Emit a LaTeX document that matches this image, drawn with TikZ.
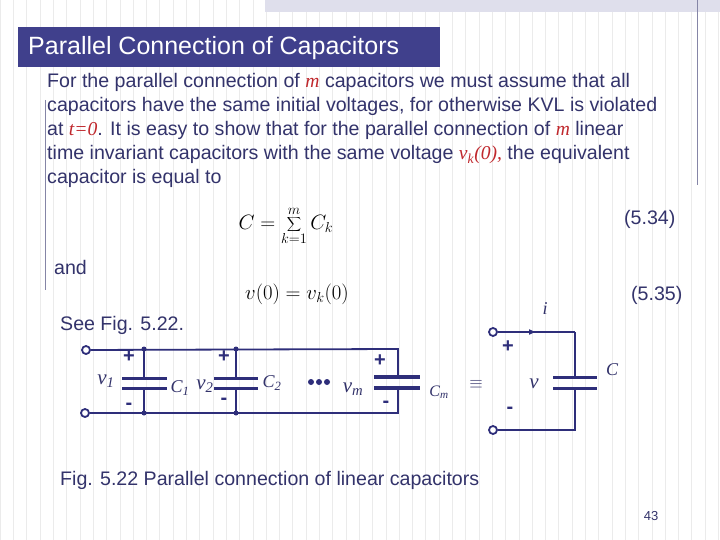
\documentclass[tikz,border=0pt]{standalone}
\usepackage{fontspec}
\setmainfont{Liberation Sans}
\newfontfamily\serifm{Liberation Serif}
\usetikzlibrary{decorations.markings}
\definecolor{navy}{HTML}{33336B}
\definecolor{titleblue}{HTML}{40408C}
\definecolor{wire}{HTML}{2E2E7A}
\definecolor{redt}{HTML}{C0282D}
\begin{document}
\begin{tikzpicture}[x=1pt,y=-1pt,
  body/.style={anchor=base west,inner sep=0,text=navy,font=\fontsize{19.6}{22}\selectfont},
  w/.style={draw=wire,line width=1.8pt},
  plate/.style={draw=wire,line width=3pt},
  term/.style={circle,draw=wire,line width=1.8pt,fill=white,minimum size=8pt,inner sep=0},
  dotn/.style={circle,fill=wire,minimum size=5pt,inner sep=0},
  lab/.style={inner sep=0,text=navy,font=\serifm\itshape\fontsize{21}{22}\selectfont},
  pm/.style={inner sep=0,text=wire,font=\bfseries\fontsize{20}{22}\selectfont}]
\useasboundingbox (0,0) rectangle (720,540);
\fill[white] (0,0) rectangle (720,540);
\draw[black!8,line width=0.4pt,step=13.3] (0,0) grid (720,540);
\fill[blue!25!gray!20] (265,0) rectangle (720,12);
\draw[navy!60,line width=0.8pt] (697,0) -- (697,185);
\draw[navy!60,line width=0.6pt] (45,100) -- (45,290);
% title
\fill[titleblue] (18,27) rectangle (440,67);
\node[text=white,anchor=west,inner sep=0,font=\fontsize{25}{28}\selectfont] (title) at (28,48) {Parallel Connection of Capacitors};
% body
\node[body] (l1) at (47,88) {For the parallel connection of {\color{redt}\serifm\itshape m} capacitors we must assume that all};
\node[body] (l2) at (47,112) {capacitors have the same initial voltages, for otherwise KVL is violated};
\node[body] (l3) at (47,136) {at {\color{redt}\serifm\itshape t=0}. It is easy to show that for the parallel connection of {\color{redt}\serifm\itshape m} linear};
\node[body] (l4) at (47,160) {time invariant capacitors with the same voltage {\color{redt}\serifm\itshape v\textsubscript{k}(0),} the equivalent};
\node[body] (l5) at (47,184) {capacitor is equal to};
\node[inner sep=0,text=black,font=\fontsize{20}{22}\selectfont] (eq1) at (286,226) {$\displaystyle C=\sum_{k=1}^{m} C_k$};
\node[body] (n1) at (624,225) {(5.34)};
\node[body] (and) at (54,274) {and};
\node[inner sep=0,text=black,font=\fontsize{20}{22}\selectfont] (eq2) at (297,294) {$v(0)=v_k(0)$};
\node[body] (n2) at (631,300) {(5.35)};
\node[body] (see) at (60,330) {See Fig. 5.22.};
\node[body] (cap) at (60,485) {Fig. 5.22 Parallel connection of linear capacitors};
\node[inner sep=0,text=navy,font=\fontsize{13}{14}\selectfont] (pg) at (651,516) {43};
% circuit left
\coordinate (tA) at (144,349); \coordinate (bA) at (144,413);
\coordinate (tB) at (236,349); \coordinate (bB) at (236,413);
\coordinate (tC) at (398,349); \coordinate (bC) at (398,413);
\node[term] (T1) at (86,350) {};
\node[term] (T2) at (85,413) {};
\draw[w] (T1) -- (tC) -- (398,377);
\draw[w] (T2) -- (bC) -- (398,388);
\draw[w] (tA) -- (144,378); \draw[w] (bA) -- (144,388);
\draw[w] (tB) -- (236,378); \draw[w] (bB) -- (236,388);
\draw[plate] (122,378) -- (167,378); \draw[plate] (122,388) -- (167,388);
\draw[plate] (214,378) -- (258,378); \draw[plate] (214,388) -- (258,388);
\draw[plate,line width=4pt] (374,377) -- (420,377); \draw[plate,line width=4pt] (374,388) -- (420,388);
\node[dotn] (d1) at (144,349) {}; \node[dotn] (d2) at (144,413) {};
\node[dotn] (d3) at (236,349) {}; \node[dotn] (d4) at (236,413) {};
\node[dotn,minimum size=6pt] (e1) at (311,382) {};
\node[dotn,minimum size=6pt] (e2) at (319,382) {};
\node[dotn,minimum size=6pt] (e3) at (327,382) {};
\node[pm] (p1) at (129,357) {+}; \node[pm] (m1) at (129,406) {-};
\node[pm] (p2) at (224,357) {+}; \node[pm] (m2) at (224,401) {-};
\node[pm] (p3) at (380,361) {+}; \node[pm] (m3) at (386,404) {-};
\node[lab] (v1) at (106,381) {v\textsubscript{1}};
\node[lab,font=\serifm\itshape\fontsize{18}{20}\selectfont] (c1) at (180,388) {C\textsubscript{1}};
\node[lab] (v2) at (205,386) {v\textsubscript{2}};
\node[lab,font=\serifm\itshape\fontsize{18}{20}\selectfont] (c2) at (272,383) {C\textsubscript{2}};
\node[lab] (vm) at (353,389) {v\textsubscript{m}};
\node[lab,font=\serifm\itshape\fontsize{16}{20}\selectfont] (cm) at (439,392) {C\textsubscript{m}};
\node[inner sep=0,text=navy,font=\LARGE] (eqv) at (476,384) {$\equiv$};
% right circuit
\node[term] (T3) at (493,332) {};
\node[term] (T4) at (493,430) {};
\draw[w,postaction={decorate},decoration={markings,mark=at position 0.5 with {\arrow[scale=0.9]{latex}}}] (T3) -- (575,332);
\draw[w] (575,332) -- (575,377);
\draw[w] (T4) -- (575,430) -- (575,388);
\draw[plate] (553,377) -- (597,377); \draw[plate] (553,388) -- (597,388);
\node[pm] (p4) at (508,347) {+}; \node[pm] (m4) at (510,410) {-};
\node[lab] (vv) at (534,384) {v};
\node[lab,font=\serifm\itshape\fontsize{18}{20}\selectfont] (cc) at (612,370) {C};
\node[lab,font=\serifm\itshape\fontsize{18}{20}\selectfont] (ii) at (545,309) {i};
\end{tikzpicture}
\end{document}
